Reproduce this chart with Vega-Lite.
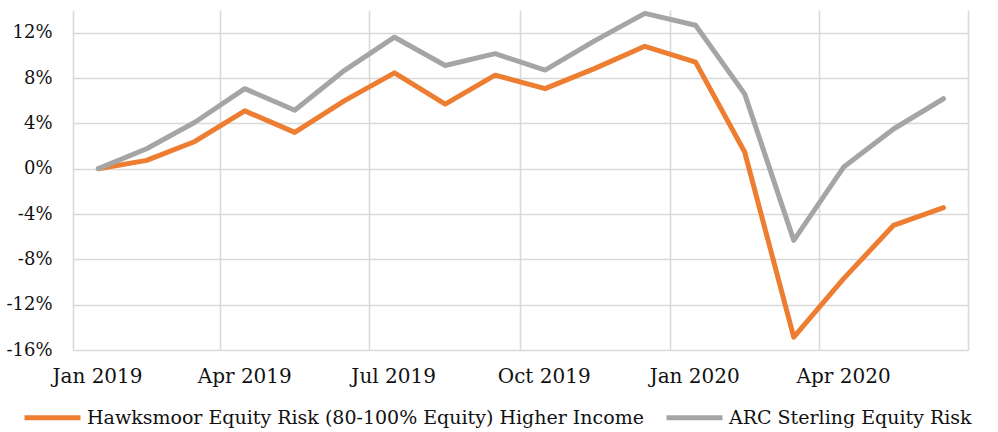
{
  "$schema": "https://vega.github.io/schema/vega-lite/v6.json",
  "width": 895,
  "height": 340,
  "autosize": {"type": "none"},
  "padding": {"left": 73, "top": 10, "right": 30, "bottom": 82},
  "background": "white",
  "config": {
    "view": {"stroke": null},
    "font": "DejaVu Serif",
    "axis": {"labelFont": "DejaVu Serif", "labelColor": "#111", "gridColor": "#d9d9d9", "gridWidth": 1.6, "domain": false, "ticks": false},
    "legend": {"labelFont": "DejaVu Serif", "labelColor": "#111"}
  },
  "data": {
    "values": [
      {"date": "2019/01/01", "series": "Hawksmoor Equity Risk (80-100% Equity) Higher Income", "value": 0},
      {"date": "2019/02/01", "series": "Hawksmoor Equity Risk (80-100% Equity) Higher Income", "value": 0.73},
      {"date": "2019/03/01", "series": "Hawksmoor Equity Risk (80-100% Equity) Higher Income", "value": 2.4},
      {"date": "2019/04/01", "series": "Hawksmoor Equity Risk (80-100% Equity) Higher Income", "value": 5.1},
      {"date": "2019/05/01", "series": "Hawksmoor Equity Risk (80-100% Equity) Higher Income", "value": 3.2},
      {"date": "2019/06/01", "series": "Hawksmoor Equity Risk (80-100% Equity) Higher Income", "value": 6.0},
      {"date": "2019/07/01", "series": "Hawksmoor Equity Risk (80-100% Equity) Higher Income", "value": 8.45},
      {"date": "2019/08/01", "series": "Hawksmoor Equity Risk (80-100% Equity) Higher Income", "value": 5.7},
      {"date": "2019/09/01", "series": "Hawksmoor Equity Risk (80-100% Equity) Higher Income", "value": 8.25},
      {"date": "2019/10/01", "series": "Hawksmoor Equity Risk (80-100% Equity) Higher Income", "value": 7.06},
      {"date": "2019/11/01", "series": "Hawksmoor Equity Risk (80-100% Equity) Higher Income", "value": 8.85},
      {"date": "2019/12/01", "series": "Hawksmoor Equity Risk (80-100% Equity) Higher Income", "value": 10.8},
      {"date": "2020/01/01", "series": "Hawksmoor Equity Risk (80-100% Equity) Higher Income", "value": 9.4},
      {"date": "2020/02/01", "series": "Hawksmoor Equity Risk (80-100% Equity) Higher Income", "value": 1.47},
      {"date": "2020/03/01", "series": "Hawksmoor Equity Risk (80-100% Equity) Higher Income", "value": -14.86},
      {"date": "2020/04/01", "series": "Hawksmoor Equity Risk (80-100% Equity) Higher Income", "value": -9.7},
      {"date": "2020/05/01", "series": "Hawksmoor Equity Risk (80-100% Equity) Higher Income", "value": -5.0},
      {"date": "2020/06/01", "series": "Hawksmoor Equity Risk (80-100% Equity) Higher Income", "value": -3.44},
      {"date": "2019/01/01", "series": "ARC Sterling Equity Risk", "value": 0},
      {"date": "2019/02/01", "series": "ARC Sterling Equity Risk", "value": 1.76},
      {"date": "2019/03/01", "series": "ARC Sterling Equity Risk", "value": 4.1},
      {"date": "2019/04/01", "series": "ARC Sterling Equity Risk", "value": 7.06},
      {"date": "2019/05/01", "series": "ARC Sterling Equity Risk", "value": 5.15},
      {"date": "2019/06/01", "series": "ARC Sterling Equity Risk", "value": 8.68},
      {"date": "2019/07/01", "series": "ARC Sterling Equity Risk", "value": 11.6},
      {"date": "2019/08/01", "series": "ARC Sterling Equity Risk", "value": 9.1},
      {"date": "2019/09/01", "series": "ARC Sterling Equity Risk", "value": 10.15},
      {"date": "2019/10/01", "series": "ARC Sterling Equity Risk", "value": 8.7},
      {"date": "2019/11/01", "series": "ARC Sterling Equity Risk", "value": 11.3},
      {"date": "2019/12/01", "series": "ARC Sterling Equity Risk", "value": 13.7},
      {"date": "2020/01/01", "series": "ARC Sterling Equity Risk", "value": 12.65},
      {"date": "2020/02/01", "series": "ARC Sterling Equity Risk", "value": 6.6},
      {"date": "2020/03/01", "series": "ARC Sterling Equity Risk", "value": -6.33},
      {"date": "2020/04/01", "series": "ARC Sterling Equity Risk", "value": 0.14},
      {"date": "2020/05/01", "series": "ARC Sterling Equity Risk", "value": 3.5},
      {"date": "2020/06/01", "series": "ARC Sterling Equity Risk", "value": 6.17}
    ]
  },
  "mark": {"type": "line", "strokeWidth": 5, "strokeCap": "round", "strokeJoin": "round"},
  "encoding": {
    "x": {
      "field": "date",
      "type": "temporal",
      "timeUnit": "yearmonth",
      "bandPosition": 0.5,
      "scale": {"domain": [{"year": 2019, "month": 1, "date": 1}, {"year": 2020, "month": 7, "date": 1}], "nice": false},
      "axis": {
        "title": null,
        "values": [
          {"year": 2019, "month": 1, "date": 1},
          {"year": 2019, "month": 4, "date": 1},
          {"year": 2019, "month": 7, "date": 1},
          {"year": 2019, "month": 10, "date": 1},
          {"year": 2020, "month": 1, "date": 1},
          {"year": 2020, "month": 4, "date": 1},
          {"year": 2020, "month": 7, "date": 1}
        ],
        "labelExpr": "year(datum.value) == 2020 && month(datum.value) == 6 ? '' : timeFormat(datum.value, '%b %Y')",
        "labelOffset": 24,
        "labelFontSize": 20,
        "labelPadding": 16,
        "labelOverlap": false,
        "labelFlush": false,
        "grid": true
      }
    },
    "y": {
      "field": "value",
      "type": "quantitative",
      "scale": {"domain": [-16, 14], "nice": false, "zero": false},
      "axis": {
        "title": null,
        "values": [-16, -12, -8, -4, 0, 4, 8, 12],
        "labelExpr": "datum.value + '%'",
        "labelFontSize": 18,
        "labelPadding": 21,
        "grid": true
      }
    },
    "color": {
      "field": "series",
      "type": "nominal",
      "sort": null,
      "scale": {
        "domain": ["Hawksmoor Equity Risk (80-100% Equity) Higher Income", "ARC Sterling Equity Risk"],
        "range": ["#ED7D31", "#A5A5A5"]
      },
      "legend": {
        "title": null,
        "orient": "none",
        "direction": "horizontal",
        "legendX": -51,
        "legendY": 377,
        "symbolType": "stroke",
        "symbolSize": 3136,
        "symbolStrokeWidth": 5,
        "labelFontSize": 19,
        "labelOffset": 4,
        "columnPadding": 12,
        "labelLimit": 0
      }
    }
  }
}
